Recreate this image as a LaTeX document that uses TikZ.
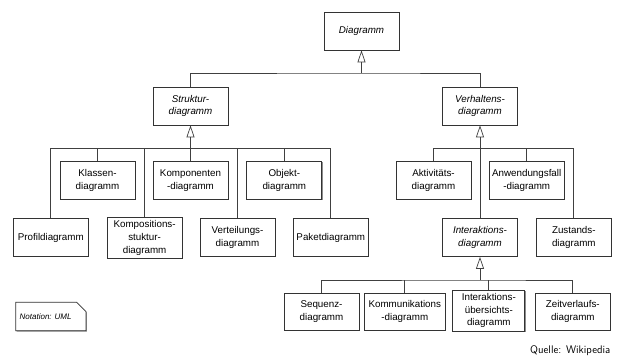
\documentclass[tikz,border=0pt]{standalone}
\usepackage{fontspec}
\setmainfont{Liberation Sans}
\usetikzlibrary{arrows.meta,shadows}
\begin{document}
\begin{tikzpicture}[x=1pt,y=-1pt,
  box/.style={draw=black!80, line width=0.7pt, fill=white, minimum width=75pt, minimum height=38pt,
    align=center, inner sep=1pt, font=\fontsize{9.8}{12.7}\selectfont,
    general shadow={fill=black!45, shadow xshift=0.8pt, shadow yshift=-0.8pt}},
  abox/.style={box, font=\fontsize{9.8}{12.7}\selectfont\itshape},
  conn/.style={draw=black!75, line width=0.7pt},
  gen/.style={conn, -{Triangle[open, width=8pt, length=12pt, fill=white]}}
]
\useasboundingbox (0,0) rectangle (623,358);

% top level
\node[abox] (D) at (361.5,31) {Diagramm};
\node[abox] (S) at (190.5,106) {Struktur-\\diagramm};
\node[abox] (V) at (480,106) {Verhaltens-\\diagramm};

% structure diagrams
\node[box] (Kl) at (97.5,180.5) {Klassen-\\diagramm};
\node[box] (Ko) at (190.5,180.5) {Komponenten\\-diagramm};
\node[box] (Ob) at (284.3,180.5) {Objekt-\\diagramm};
\node[box] (Pr) at (50.8,237.5) {Profildiagramm};
\node[box, minimum height=41pt] (Ks) at (144.6,237.8) {Kompositions-\\stuktur-\\diagramm};
\node[box] (Ve) at (237.5,237.5) {Verteilungs-\\diagramm};
\node[box] (Pa) at (330.8,237.5) {Paketdiagramm};

% behaviour diagrams
\node[box] (Ak) at (433.5,180.5) {Aktivitäts-\\diagramm};
\node[box] (An) at (526.7,180.5) {Anwendungsfall\\-diagramm};
\node[abox] (In) at (480,237.5) {Interaktions-\\diagramm};
\node[box] (Zu) at (573.8,237.5) {Zustands-\\diagramm};

% interaction diagrams
\node[box, minimum height=37pt] (Se) at (321.5,311.5) {Sequenz-\\diagramm};
\node[box, minimum height=37pt, minimum width=81.7pt] (Km) at (404.8,311.5) {Kommunikations\\-diagramm};
\node[box, minimum height=41pt, minimum width=72pt] (Ue) at (488.8,310.5) {Interaktions-\\übersichts-\\diagramm};
\node[box, minimum height=37pt] (Ze) at (572.8,311.5) {Zeitverlaufs-\\diagramm};

% junction coordinates
\coordinate (b0) at (361.5,73);
\coordinate (b1) at (190.5,148.3);
\coordinate (b2) at (480,148.3);
\coordinate (b3) at (480,280);

% Diagramm
\draw[conn] (S.north) |- (b0) -| (V.north);
\draw[gen] (b0) -- (D.south);

% Struktur
\draw[conn] (Pr.north) |- (b1) -| (Pa.north);
\draw[conn] (Kl.north) -- (Kl.north |- b1);
\draw[conn] (Ks.north) -- (Ks.north |- b1);
\draw[conn] (Ko.north) -- (b1);
\draw[conn] (Ve.north) -- (Ve.north |- b1);
\draw[conn] (Ob.north) -- (Ob.north |- b1);
\draw[gen] (b1) -- (S.south);

% Verhalten
\draw[conn] (Ak.north) |- (b2) -| (Zu.north);
\draw[conn] (An.north) -- (An.north |- b2);
\draw[conn] (In.north) -- (b2);
\draw[gen] (b2) -- (V.south);

% Interaktion
\draw[conn] (Se.north) |- (b3) -| (Ze.north);
\draw[conn] (Km.north) -- (Km.north |- b3);
\draw[conn] (Ue.north) -- (Ue.north |- b3);
\draw[gen] (b3) -- (In.south);

% note
\fill[black!45] (16.5,303.1) -- (77.5,303.1) -- (86.8,312.5) -- (86.8,331.5) -- (16.5,331.5) -- cycle;
\draw[draw=black!80, line width=0.7pt, fill=white] (15.7,302.3) -- (76.7,302.3) -- (86,311.7) -- (86,330.7) -- (15.7,330.7) -- cycle;
\node[font=\fontsize{8}{9}\selectfont\itshape, anchor=west, inner sep=0pt] (note) at (19.5,316.5) {Notation: UML};

% source
\node[font=\sffamily\fontsize{11}{13}\selectfont, anchor=east, inner sep=0pt] (src) at (610.5,350.5) {Quelle: Wikipedia};
\end{tikzpicture}
\end{document}
